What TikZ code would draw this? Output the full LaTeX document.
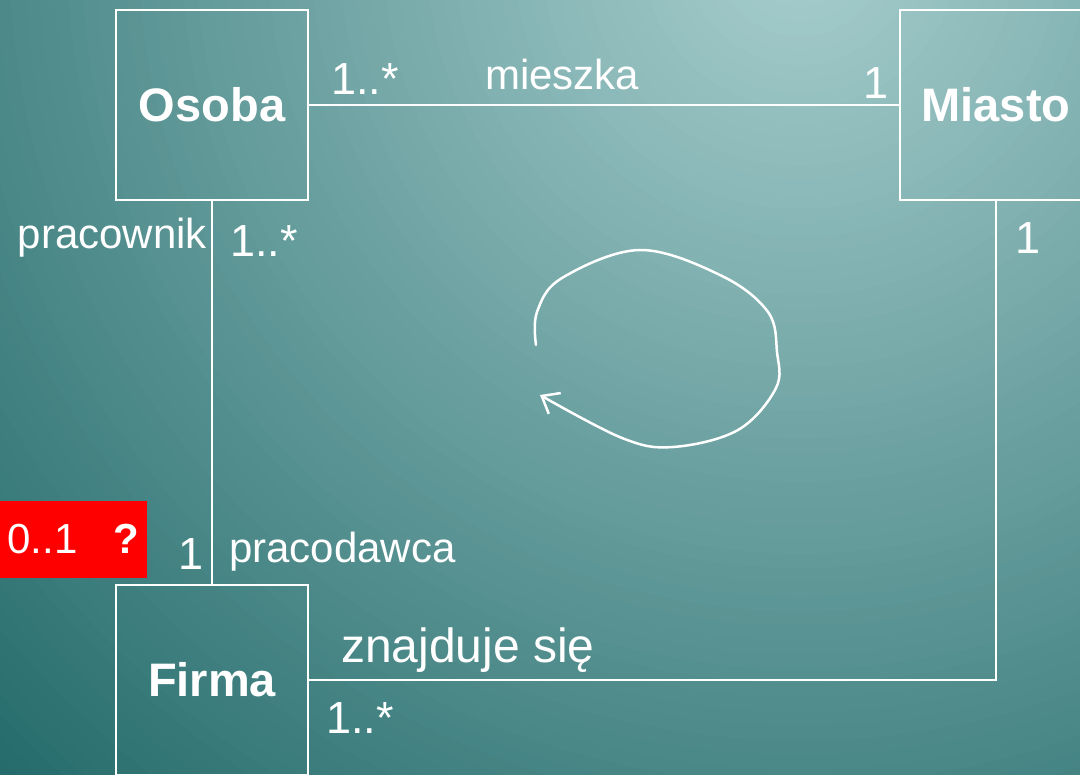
\documentclass[tikz,border=0pt]{standalone}
\usepackage{fontspec}
\setmainfont{Liberation Sans}
\usetikzlibrary{arrows.meta}
\definecolor{bglight}{RGB}{168,206,206}
\definecolor{bgdark}{RGB}{38,108,108}
\tikzstyle{klasa} = [draw=white, line width=2pt, minimum width=192pt, minimum height=190pt, inner sep=0pt, outer sep=0pt, text=white, font={\fontsize{47}{56}\selectfont\bfseries}]
\tikzstyle{lbl} = [text=white, inner sep=0pt, font={\fontsize{42}{50}\selectfont}]
\tikzstyle{mult} = [lbl, font={\fontsize{45}{54}\selectfont}]
\tikzstyle{assoc} = [draw=white, line width=2pt]
\tikzstyle{uwaga} = [lbl, fill=red, minimum width=147pt, minimum height=77pt]
\tikzstyle{petla} = [draw=white, line width=2.5pt, line cap=round, -{Straight Barb[length=15pt,width=24pt]}]

\begin{document}
\begin{tikzpicture}[x=1pt, y=-1pt]
        \useasboundingbox (0,0) rectangle (1080,775);
        % background: rings getting lighter towards the top
        \begin{scope}
          \clip (0,0) rectangle (1080,775);
          \fill[bgdark] (0,0) rectangle (1080,775);
          \foreach \i in {0,...,79}{
            \pgfmathsetmacro{\d}{100*(1-\i/80)}
            \fill[bgdark!\d!bglight] (800,-50) circle ({1150*(1-\i/80)});
          }
        \end{scope}
        \node[klasa](osoba) at (212,105){Osoba};
        \node[klasa](miasto) at (996,105){Miasto};
        \node[klasa](firma) at (212,680){Firma};
        \draw[assoc](osoba)--(miasto);
        \draw[assoc](osoba)--(firma);
        \draw[assoc](miasto.south)|-(firma.east);
        % role and multiplicity labels
        \node[mult,anchor=base west](osobaMul) at (331,95){1..*};
        \node[lbl,anchor=base west](mieszka) at (485,90){mieszka};
        \node[mult,anchor=base](miastoMul) at (876,99){1};
        \node[lbl,anchor=base east](pracownik) at (207,249){pracownik};
        \node[mult,anchor=base west](pracMul) at (230,257){1..*};
        \node[mult,anchor=base](miastoMul2) at (1028,254){1};
        \node[mult,anchor=base](firmaMul) at (191,569){1};
        \node[lbl,anchor=base west](pracodawca) at (229,562){pracodawca};
        \node[lbl,anchor=base west,font={\fontsize{48}{56}\selectfont}](znajduje) at (341,662){znajduje się};
        \node[mult,anchor=base west](firmaMul2) at (326,733){1..*};
        \node[uwaga](pytanie) at (73.5,539.5){0..1\hspace{36pt}\textbf{?}};
        % cycle of the associations
        \draw[petla] plot[smooth, tension=0.6] coordinates {(536,345) (537,312) (562,278) (640,250) (722,276) (768,312) (777,352) (776,388) (738,430) (673,447) (622,438) (540,395)};
      \end{tikzpicture}
\end{document}
